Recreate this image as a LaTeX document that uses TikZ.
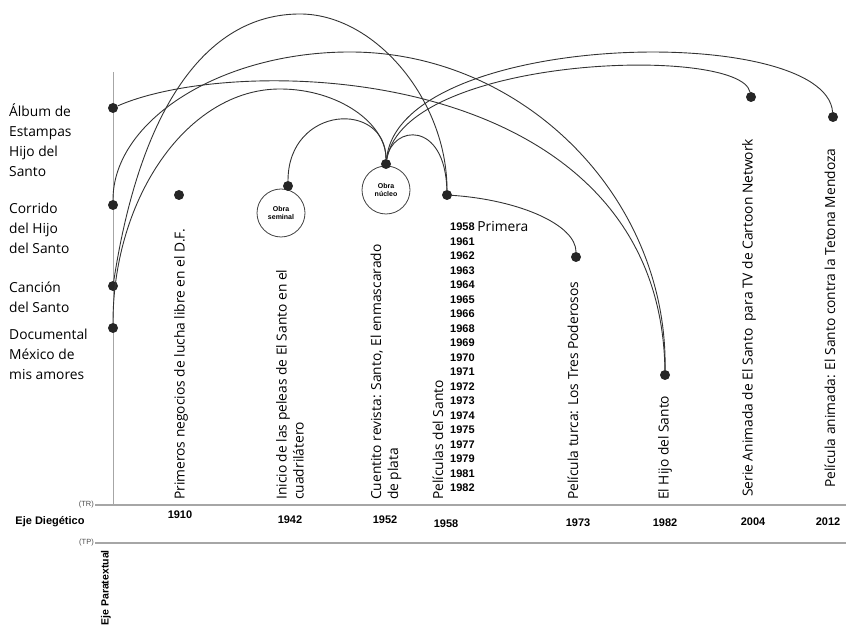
\documentclass[tikz,border=0pt]{standalone}
\usepackage{fontspec}
\setmainfont{Open Sans}
\newfontfamily\boldsans{Liberation Sans}

\begin{document}
\begin{tikzpicture}[x=1pt, y=1pt,
  dot/.style={circle, fill=black!85, minimum size=10pt, inner sep=0pt},
  ring/.style={circle, draw=black!75, fill=white, line width=0.8pt,
    minimum size=48pt, inner sep=0pt, align=center,
    font=\boldsans\bfseries\fontsize{7}{8}\selectfont},
  link/.style={black!80, line width=0.9pt},
  axisline/.style={gray!70, line width=1.1pt},
  event/.style={rotate=90, anchor=west, align=left, inner sep=1pt,
    font=\fontsize{13.8}{17}\selectfont},
  side/.style={anchor=west, align=left, inner sep=0pt,
    font=\fontsize{13.8}{20}\selectfont},
  yearlbl/.style={font=\boldsans\bfseries\fontsize{11}{12}\selectfont, inner sep=0pt}]
  \useasboundingbox (0,0) rectangle (846,636);

  % axes
  \draw[axisline, line width=0.9pt] (113,564) -- (113,131);
  \node[anchor=east, inner sep=1pt, text=black!70,
    font=\boldsans\fontsize{7.5}{9}\selectfont] (tr) at (95,131) {(TR)};
  \node[anchor=east, inner sep=1pt, text=black!70,
    font=\boldsans\fontsize{7.5}{9}\selectfont] (tp) at (95,93) {(TP)};
  \draw[axisline] (tr.east) -- (846,131);
  \draw[axisline] (tp.east) -- (846,93);
  \node[font=\boldsans\bfseries\fontsize{11}{12}\selectfont] (diegetico) at (50,114) {Eje Diegético};
  \node[rotate=90, anchor=east, inner sep=0pt,
    font=\boldsans\bfseries\fontsize{10.5}{12}\selectfont] (paratextual) at (106,86) {Eje Paratextual};

  % years on the diegetic axis
  \foreach \x/\y/\lab in {180/121/1910, 290/116/1942, 385/116/1952, 446/112/1958,
      578/113/1973, 665/113/1982, 753/114/2004, 828/114/2012}
    \node[yearlbl] (a\lab) at (\x,\y) {\lab};

  % paratexts on the vertical axis
  \node[side] (albumtxt) at (9,496) {Álbum de\\Estampas\\Hijo del\\Santo};
  \node[side] (corridotxt) at (9,408) {Corrido\\del Hijo\\del Santo};
  \node[side] (canciontxt) at (9,339) {Canción\\del Santo};
  \node[side] (docutxt) at (9,282) {Documental\\México de\\mis amores};

  % events
  \foreach \x/\y/\nm/\txt in {
      181/135/negtxt/{Primeros negocios de lucha libre en el D.F.},
      290/135/peltxt/{Inicio de las peleas de El Santo en el\\cuadrilátero},
      386/135/cuetxt/{Cuentito revista: Santo, El enmascarado\\de plata},
      438/135/filtxt/{Películas del Santo},
      573/135/turtxt/{Película turca: Los Tres Poderosos},
      665/135/hijtxt/{El Hijo del Santo},
      749/138/sertxt/{Serie Animada de El Santo~ para TV de Cartoon Network},
      830/147/anitxt/{Película animada: El Santo contra la Tetona Mendoza}}
    \node[event] (\nm) at (\x,\y) {\txt};

  % list of films
  \foreach \yr [count=\i] in {1958,1961,1962,1963,1964,1965,1966,1968,1969,1970,
      1971,1972,1973,1974,1975,1977,1979,1981,1982}
    \node[yearlbl, anchor=west] (f\i) at (450,{409-14.5*(\i-1)}) {\yr};
  \node[anchor=west, inner sep=0pt, font=\fontsize{13.8}{17}\selectfont] (primera) at (f1.east) {\,Primera};

  % works
  \node[ring] (seminal) at (281,423) {Obra\\seminal};
  \node[ring] (nucleo) at (386,446) {Obra\\núcleo};

  \node[dot] (album) at (113,528) {};
  \node[dot] (corrido) at (113,431) {};
  \node[dot] (cancion) at (113,350) {};
  \node[dot] (docu) at (113,308) {};
  \node[dot] (negocios) at (179,441) {};
  \node[dot] (peleas) at (288,450) {};
  \node[dot] (cuentito) at (386,472) {};
  \node[dot] (peliculas) at (447,441) {};
  \node[dot] (turca) at (576,379) {};
  \node[dot] (hijo) at (665,261) {};
  \node[dot] (serie) at (751,539) {};
  \node[dot] (animada) at (833,519) {};

  % relations
  \draw[link] (album) .. controls (240,584) and (660,574) .. (hijo);
  \draw[link] (corrido) .. controls (113,515) and (220,584) .. (350,584)
    .. controls (523,584) and (668,439) .. (hijo);
  \draw[link] (cancion) .. controls (140,526) and (205,622) .. (300,622)
    .. controls (375,622) and (447,536) .. (peliculas);
  \draw[link] (docu) .. controls (113,439) and (188,547) .. (280,547)
    .. controls (338,547) and (386,513) .. (cuentito);
  \draw[link] (peleas) .. controls (288,531) and (386,536) .. (cuentito);
  \draw[link] (cuentito) .. controls (392,511) and (445,516) .. (peliculas);
  \draw[link] (cuentito) .. controls (405,581) and (740,591) .. (serie);
  \draw[link] (cuentito) .. controls (400,606) and (825,614) .. (animada);
  \draw[link] (peliculas) .. controls (520,436) and (576,411) .. (turca);
\end{tikzpicture}
\end{document}
